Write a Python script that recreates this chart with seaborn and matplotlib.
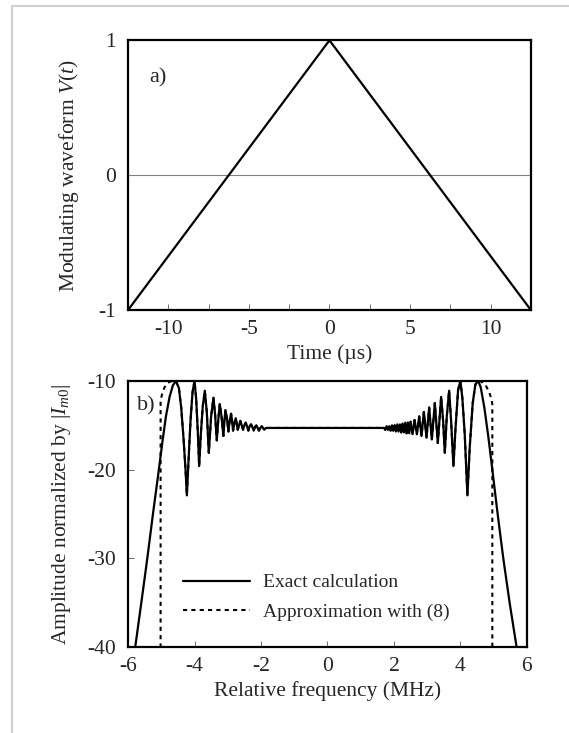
import matplotlib
matplotlib.use("Agg")
import matplotlib.pyplot as plt
import seaborn as sns
from matplotlib.lines import Line2D

# a) modulating waveform (triangle)
time_us = [-12.5, 0.0, 12.5]
waveform = [-1.0, 1.0, -1.0]

# b) spectrum, exact calculation
freq_left = [-5.82, -5.60, -5.42, -5.25, -5.09, -4.97, -4.86, -4.75, -4.65, -4.56,
             -4.47, -4.40, -4.33, -4.27, -4.23, -4.18, -4.12, -4.06, -4.00, -3.95,
             -3.90, -3.86, -3.81, -3.75, -3.69, -3.63, -3.57, -3.50, -3.43, -3.38,
             -3.33, -3.28, -3.24, -3.19, -3.13, -3.10, -3.07, -3.02, -2.98, -2.94,
             -2.90, -2.87, -2.84, -2.80, -2.76, -2.73, -2.70, -2.66, -2.62, -2.58,
             -2.54, -2.50, -2.46, -2.42, -2.38, -2.34, -2.30, -2.26, -2.22, -2.18,
             -2.14, -2.10, -2.06, -2.02, -1.98, -1.94, -1.90, -1.85]
amp_left = [-41.0, -35.0, -30.0, -25.0, -20.5, -17.0, -14.0, -11.8, -10.5, -10.0,
            -10.8, -13.0, -16.5, -20.0, -22.9, -19.0, -14.5, -11.3, -10.0, -12.0,
            -15.8, -19.6, -16.0, -12.8, -11.1, -13.5, -18.1, -14.0, -11.9, -13.8,
            -16.7, -14.2, -12.6, -13.9, -16.2, -14.5, -13.3, -14.3, -15.7, -14.5,
            -13.7, -14.5, -15.6, -14.8, -14.2, -14.8, -15.5, -15.0, -14.5, -15.0,
            -15.5, -15.0, -14.7, -15.1, -15.6, -15.1, -14.9, -15.2, -15.6, -15.2,
            -15.0, -15.3, -15.6, -15.3, -15.1, -15.3, -15.5, -15.3]
freq_right = [1.70, 1.74, 1.78, 1.82, 1.86, 1.90, 1.94, 1.98, 2.02, 2.06,
              2.10, 2.14, 2.18, 2.22, 2.26, 2.30, 2.34, 2.38, 2.42, 2.46,
              2.50, 2.56, 2.62, 2.69, 2.76, 2.83, 2.90, 2.98, 3.06, 3.14,
              3.23, 3.32, 3.42, 3.48, 3.53, 3.59, 3.66, 3.72, 3.79, 3.85,
              3.93, 4.00, 4.06, 4.13, 4.21, 4.28, 4.37, 4.45, 4.53, 4.61,
              4.72, 4.84, 4.96, 5.12, 5.29, 5.48, 5.69, 5.73]
amp_right = [-15.3, -15.5, -15.1, -15.5, -15.1, -15.6, -15.0, -15.6, -15.0, -15.7,
             -14.9, -15.7, -14.9, -15.8, -14.8, -15.8, -14.7, -15.9, -14.7, -15.9,
             -14.6, -16.0, -14.4, -16.0, -14.0, -16.2, -13.5, -16.4, -13.0, -16.6,
             -12.5, -17.0, -11.8, -14.5, -18.1, -14.0, -11.1, -14.5, -19.6, -15.5,
             -11.0, -10.0, -12.0, -16.0, -22.9, -17.5, -12.5, -10.4, -10.0, -10.7,
             -13.0, -16.3, -20.0, -25.0, -30.0, -35.0, -40.0, -41.0]

# approximation with (8): differs from exact only at the band edges
approx_left_f = [-5.02, -5.02, -4.97, -4.90, -4.80, -4.68]
approx_left_a = [-41.0, -12.2, -11.4, -10.7, -10.2, -10.0]
approx_right_f = [4.64, 4.76, 4.86, 4.93, 4.96, 4.96]
approx_right_a = [-10.1, -10.5, -11.2, -12.0, -12.6, -41.0]

freq_exact = freq_left + freq_right
amp_exact = amp_left + amp_right
inner = [(f, a) for f, a in zip(freq_exact, amp_exact) if -4.56 <= f <= 4.53]
freq_approx = approx_left_f + [p[0] for p in inner] + approx_right_f
amp_approx = approx_left_a + [p[1] for p in inner] + approx_right_a

sns.set_style("ticks")
plt.rcParams['font.family'] = ['Liberation Serif', 'DejaVu Serif']
plt.rcParams['mathtext.fontset'] = 'custom'
plt.rcParams['mathtext.rm'] = 'Liberation Serif'
plt.rcParams['mathtext.it'] = 'Liberation Serif:italic'
plt.rcParams['axes.unicode_minus'] = False

FS = 15.5

fig = plt.figure(figsize=(5.69, 7.33), dpi=100)
fig.patch.set_facecolor('white')

# light grey frame around the figure (left and top edges show)
fig.add_artist(Line2D([0.021, 0.021], [-0.01, 0.992], transform=fig.transFigure,
                      color='#cfcfd6', lw=1.5))
fig.add_artist(Line2D([0.021, 1.01], [0.992, 0.992], transform=fig.transFigure,
                      color='#cfcfd6', lw=1.5))

ax1 = fig.add_axes([0.225, 0.577, 0.708, 0.368])
ax2 = fig.add_axes([0.225, 0.1173, 0.701, 0.3630])

#%% a) waveform
ax1.axhline(0, color='#808080', lw=0.8, zorder=1)
sns.lineplot(x=time_us, y=waveform, ax=ax1, color='black', lw=1.6,
             estimator=None, sort=False)
ax1.set_xlim(-12.5, 12.5)
ax1.set_ylim(-1, 1)
ax1.set_xticks([-10, -5, 0, 5, 10])
ax1.set_xticks([-7.5, -2.5, 2.5, 7.5], minor=True)
ax1.set_yticks([-1, 0, 1])
ax1.set_xlabel('Time (µs)', fontsize=FS, labelpad=4)
ax1.set_ylabel('Modulating waveform $V$($t$)', fontsize=FS, labelpad=12)
ax1.text(0.052, 0.86, 'a)', transform=ax1.transAxes, fontsize=16, va='center')

#%% b) spectrum
sns.lineplot(x=freq_exact, y=amp_exact, ax=ax2, color='black', lw=1.6,
             estimator=None, sort=False, label='Exact calculation')
sns.lineplot(x=freq_approx, y=amp_approx, ax=ax2, color='black', lw=1.5,
             estimator=None, sort=False, label='Approximation with (8)')
ax2.lines[1].set_linestyle((0, (2, 2)))
ax2.set_xlim(-6, 6)
ax2.set_ylim(-40, -10)
ax2.set_xticks([-6, -4, -2, 0, 2, 4, 6])
ax2.set_yticks([-40, -30, -20, -10])
ax2.set_xlabel('Relative frequency (MHz)', fontsize=FS, labelpad=4)
ax2.set_ylabel('Amplitude normalized by |$I_{m0}$|', fontsize=FS, labelpad=10)
ax2.text(0.022, 0.906, 'b)', transform=ax2.transAxes, fontsize=16, va='center')
leg = ax2.legend(loc='upper left', bbox_to_anchor=(0.138, 0.275), frameon=False,
                 fontsize=14, handlelength=3.45, handletextpad=0.65,
                 labelspacing=0.6, borderaxespad=0, borderpad=0)
for h in leg.get_lines():
    h.set_color('black')
leg.get_lines()[1].set_linestyle((0, (2, 2)))

for ax in (ax1, ax2):
    for s in ax.spines.values():
        s.set_visible(True)
        s.set_color('black')
        s.set_linewidth(1.6)
    ax.tick_params(which='both', direction='in', length=4, width=0.6,
                   color='#555555', labelsize=FS, pad=9)
    ax.tick_params(axis='x', pad=7)
    ax.set_facecolor('white')

fig.savefig('out.png', dpi=100)
